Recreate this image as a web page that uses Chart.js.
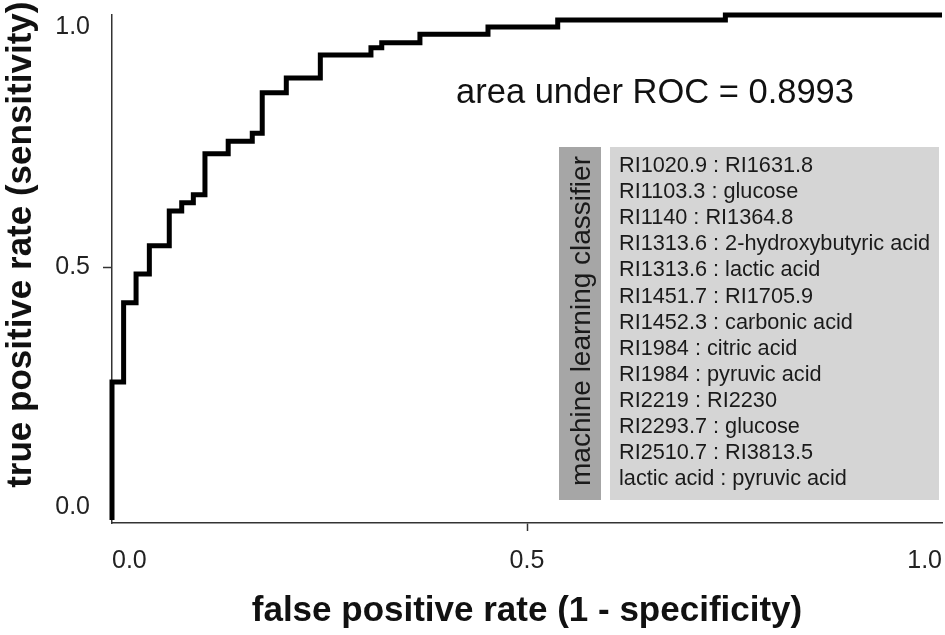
<!DOCTYPE html>
<html lang="en">
<head>
<meta charset="UTF-8">
<title>ROC curve</title>
<script src="https://cdn.jsdelivr.net/npm/chart.js"></script>
<style>
  body { margin: 0; background: #fff; }
  #wrap { width: 945px; height: 635px; position: relative; }
</style>
</head>
<body>
<div id="wrap"><canvas id="rocChart"></canvas></div>
<script>
  // ROC operating points (one per vertical step)
  const fprValues = [0, 0, 0.014, 0.029, 0.045, 0.069, 0.084, 0.098, 0.112, 0.140, 0.169,
                     0.181, 0.210, 0.251, 0.312, 0.325, 0.371, 0.453, 0.537, 0.739, 1.0];
  const tprValues = [0, 0.273, 0.430, 0.487, 0.543, 0.612, 0.628, 0.644, 0.725, 0.750, 0.766,
                     0.846, 0.875, 0.921, 0.935, 0.945, 0.962, 0.976, 0.990, 1.0, 1.0];
  const xTicks = [0, 0.5, 1.0];
  const yTicks = [0, 0.5, 1.0];
  const aucLabel = "area under ROC = 0.8993";
  const classifierTitle = "machine learning classifier";
  const classifierFeatures = [
    "RI1020.9 : RI1631.8",
    "RI1103.3 : glucose",
    "RI1140 : RI1364.8",
    "RI1313.6 : 2-hydroxybutyric acid",
    "RI1313.6 : lactic acid",
    "RI1451.7 : RI1705.9",
    "RI1452.3 : carbonic acid",
    "RI1984 : citric acid",
    "RI1984 : pyruvic acid",
    "RI2219 : RI2230",
    "RI2293.7 : glucose",
    "RI2510.7 : RI3813.5",
    "lactic acid : pyruvic acid"
  ];

  const FONT = "'Liberation Sans', Arial, sans-serif";
  Chart.defaults.font.family = FONT;

  // only the middle tick gets a tick mark
  const tickColor = ctx => (ctx.tick && ctx.tick.value === 0.5) ? '#333' : 'rgba(0,0,0,0)';

  const notesPlugin = {
    id: 'rocNotes',
    afterDraw(chart) {
      const ctx = chart.ctx;
      ctx.save();

      ctx.fillStyle = '#111';
      ctx.font = '34.5px ' + FONT;
      ctx.textAlign = 'center';
      ctx.textBaseline = 'alphabetic';
      ctx.fillText(aucLabel, 655, 103);

      // classifier box
      ctx.fillStyle = '#a6a6a6';
      ctx.fillRect(559, 147, 42, 353);
      ctx.fillStyle = '#d5d5d5';
      ctx.fillRect(610, 147, 329, 353);

      ctx.save();
      ctx.translate(582, 321);
      ctx.rotate(-Math.PI / 2);
      ctx.fillStyle = '#1a1a1a';
      ctx.font = '28px ' + FONT;
      ctx.textAlign = 'center';
      ctx.textBaseline = 'middle';
      ctx.fillText(classifierTitle, 0, 0);
      ctx.restore();

      ctx.fillStyle = '#1a1a1a';
      ctx.font = '21.7px ' + FONT;
      ctx.textAlign = 'left';
      ctx.textBaseline = 'alphabetic';
      classifierFeatures.forEach((line, i) => {
        ctx.fillText(line, 619, 172 + i * 26.1);
      });

      ctx.restore();
    }
  };

  const points = fprValues.map((x, i) => ({ x: x, y: tprValues[i] }));

  new Chart(document.getElementById('rocChart'), {
    type: 'line',
    data: {
      datasets: [{
        label: 'ROC',
        data: points,
        stepped: true,
        borderColor: '#000',
        borderWidth: 5,
        borderCapStyle: 'butt',
        borderJoinStyle: 'miter',
        pointRadius: 0,
        fill: false,
        clip: false
      }]
    },
    options: {
      responsive: true,
      maintainAspectRatio: false,
      animation: false,
      layout: { padding: { top: 15, right: 3, left: 0, bottom: 0 } },
      plugins: {
        legend: { display: false },
        tooltip: { enabled: false }
      },
      scales: {
        x: {
          type: 'linear',
          min: 0,
          max: 1,
          afterBuildTicks: s => { s.ticks = xTicks.map(v => ({ value: v })); },
          afterFit: s => { s.height = 112; s.paddingLeft = 0; s.paddingRight = 0; },
          ticks: {
            align: 'inner',
            padding: 18,
            color: '#222',
            font: { size: 25, lineHeight: 1.0 },
            callback: v => v.toFixed(1)
          },
          grid: { drawOnChartArea: false, tickLength: 8, tickWidth: 1.5, color: tickColor },
          border: { color: '#333', width: 1.5 },
          title: {
            display: true,
            text: 'false positive rate (1 - specificity)',
            color: '#111',
            font: { size: 35, weight: 'bold', lineHeight: 1.2 },
            padding: { top: 0, bottom: 3 }
          }
        },
        y: {
          type: 'linear',
          min: -0.006,
          max: 1,
          afterBuildTicks: s => { s.ticks = yTicks.map(v => ({ value: v })); },
          afterFit: s => { s.width = 112; s.paddingTop = 0; s.paddingBottom = 0; },
          ticks: {
            padding: 13,
            color: '#222',
            font: { size: 25, lineHeight: 1.0 },
            // end labels sit inside the axis span
            callback: v => v === 1 ? ['', '1.0'] : (v === 0 ? ['0.0', ''] : v.toFixed(1))
          },
          grid: { drawOnChartArea: false, tickLength: 9, tickWidth: 1.5, color: tickColor },
          border: { color: '#333', width: 1.5 },
          title: {
            display: true,
            text: '     true positive rate (sensitivity)',
            color: '#111',
            font: { size: 35, weight: 'bold', lineHeight: 1.2 },
            padding: { top: 0, bottom: 0 }
          }
        }
      }
    },
    plugins: [notesPlugin]
  });
</script>
</body>
</html>
